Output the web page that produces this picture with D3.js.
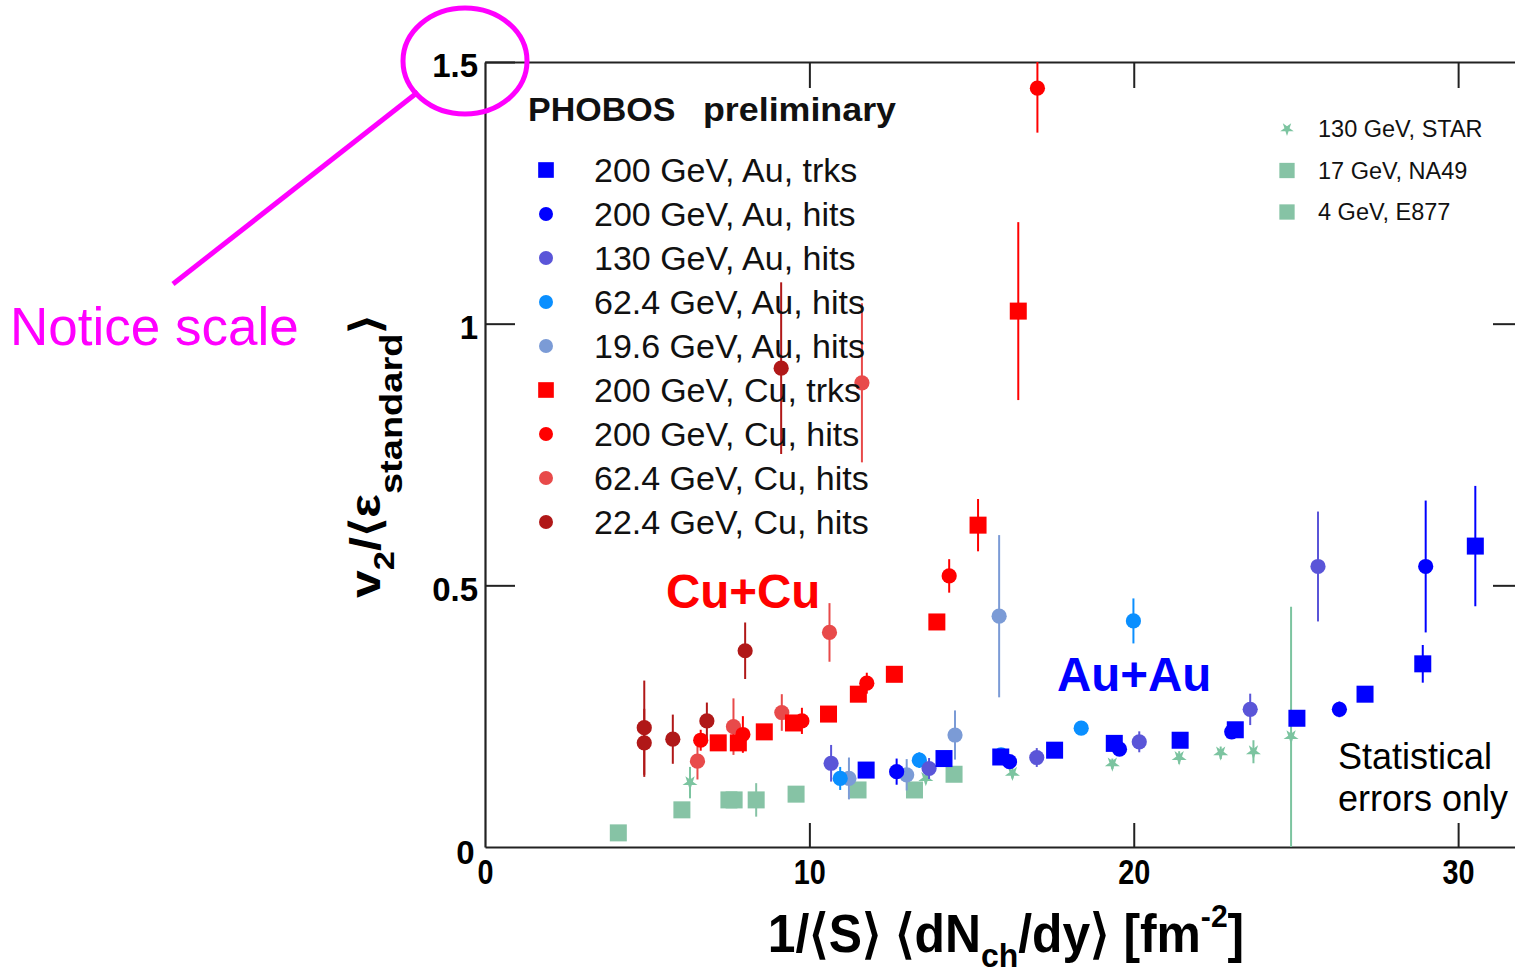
<!DOCTYPE html>
<html>
<head>
<meta charset="utf-8">
<script src="https://cdn.jsdelivr.net/npm/d3@7"></script>
<style>
  html, body { margin: 0; padding: 0; background: #fff; overflow: hidden; }
  text { font-family: "Liberation Sans", Arial, Helvetica, sans-serif; }
</style>
</head>
<body>
<svg id="chart" width="1515" height="976"></svg>
<script>
// ---- axis ticks ----
const xTicks = [0, 10, 20, 30];
const xTickLabels = ["0", "10", "20", "30"];
const yTicks = [0, 0.5, 1, 1.5];
const yTickLabels = ["0", "0.5", "1", "1.5"];

// ---- data: [x, v2/<eps>, statistical error] ----
const au200Trks = [[11.75,0.147,0.008],[14.15,0.169,0.008],[15.90,0.172,0.008],[17.56,0.185,0.008],[19.40,0.198,0.008],[21.43,0.204,0.008],[23.13,0.224,0.008],[25.03,0.246,0.008],[27.13,0.292,0.008],[28.91,0.350,0.036],[30.53,0.575,0.115]];
const au200Hits = [[12.69,0.144,0.025],[16.17,0.163,0.012],[19.56,0.187,0.012],[23.02,0.220,0.012],[26.34,0.263,0.015],[29.00,0.536,0.126]];
const au130Hits = [[10.67,0.160,0.035],[13.69,0.150,0.020],[17.01,0.171,0.018],[20.17,0.201,0.020],[23.59,0.263,0.030],[25.68,0.536,0.105]];
const au62Hits  = [[10.95,0.131,0.022],[13.39,0.166,0.015],[15.91,0.176,0.012],[18.38,0.227,0.012],[19.99,0.432,0.043]];
const au19Hits  = [[11.22,0.131,0.040],[13.00,0.138,0.030],[14.49,0.214,0.047],[15.85,0.441,0.155]];
const cu200Trks = [[7.19,0.199,0.008],[7.81,0.199,0.010],[8.61,0.220,0.008],[9.51,0.237,0.008],[10.59,0.254,0.008],[11.51,0.292,0.008],[12.62,0.330,0.008],[13.93,0.430,0.015],[15.20,0.615,0.050],[16.44,1.024,0.170]];
const cu200Hits = [[6.65,0.204,0.020],[7.95,0.215,0.035],[9.77,0.241,0.025],[11.77,0.313,0.020],[14.31,0.518,0.032],[17.03,1.450,0.085]];
const cu62Hits  = [[6.55,0.164,0.035],[7.66,0.230,0.054],[9.15,0.257,0.035],[10.62,0.410,0.056],[11.62,0.887,0.152]];
const cu22Hits  = [[4.91,0.228,0.090],[4.91,0.199,0.065],[5.79,0.206,0.047],[6.84,0.241,0.035],[8.02,0.375,0.054],[9.13,0.915,0.164]];
const star130   = [[6.32,0.123,0.030],[13.59,0.131,0.010],[16.26,0.141,0.010],[19.34,0.159,0.010],[21.40,0.171,0.012],[22.68,0.180,0.012],[23.69,0.182,0.022],[24.85,0.211,0.248]];
const na49      = [[7.52,0.090,0],[7.68,0.090,0],[8.36,0.090,0.032],[9.59,0.101,0],[11.50,0.109,0],[13.24,0.109,0],[14.46,0.139,0]];
const e877      = [[4.11,0.027,0],[6.07,0.071,0]];

// ---- series styling ----
const phobosSeries = [
  { name: "200 GeV, Au, trks", data: au200Trks, shape: "square", color: "#0000ff" },
  { name: "200 GeV, Au, hits", data: au200Hits, shape: "circle", color: "#0000ff" },
  { name: "130 GeV, Au, hits", data: au130Hits, shape: "circle", color: "#5a55d8" },
  { name: "62.4 GeV, Au, hits", data: au62Hits, shape: "circle", color: "#0a8fff" },
  { name: "19.6 GeV, Au, hits", data: au19Hits, shape: "circle", color: "#7b9bd6" },
  { name: "200 GeV, Cu, trks", data: cu200Trks, shape: "square", color: "#ff0000" },
  { name: "200 GeV, Cu, hits", data: cu200Hits, shape: "circle", color: "#ff0000" },
  { name: "62.4 GeV, Cu, hits", data: cu62Hits, shape: "circle", color: "#e84a4a" },
  { name: "22.4 GeV, Cu, hits", data: cu22Hits, shape: "circle", color: "#b01818" }
];
const otherSeries = [
  { name: "130 GeV, STAR", data: star130, shape: "star", color: "#7cc4a0" },
  { name: "17 GeV, NA49", data: na49, shape: "square", color: "#86c3a5" },
  { name: "4 GeV, E877", data: e877, shape: "square", color: "#86c3a5" }
];

const svg = d3.select("#chart");
const x = d3.scaleLinear().domain([0, 32]).range([485, 1523]);
const y = d3.scaleLinear().domain([0, 1.5]).range([847, 62]);
const FONT = '"Liberation Sans", Arial, Helvetica, sans-serif';

svg.append("defs").append("clipPath").attr("id", "plotClip")
  .append("rect").attr("x", x(0)).attr("y", y(1.5))
  .attr("width", x(32) - x(0)).attr("height", y(0) - y(1.5));

// ---- axes ----
const axisColor = "#222";
function styleAxis(g) {
  g.selectAll("path.domain").attr("stroke", axisColor).attr("stroke-width", 2.2);
  g.selectAll(".tick line").attr("stroke", axisColor).attr("stroke-width", 2);
}

const gx = svg.append("g").attr("transform", `translate(0,${y(0)})`)
  .call(d3.axisBottom(x).tickValues(xTicks).tickSize(-24).tickSizeOuter(0).tickPadding(11)
    .tickFormat((d, i) => xTickLabels[i]));
styleAxis(gx);
gx.selectAll(".tick text")
  .attr("font-family", FONT).attr("font-weight", "bold").attr("font-size", 36)
  .attr("fill", "#000").attr("transform", "scale(0.8,1)");
gx.selectAll(".tick").filter(d => d === 0).select("line").remove();

const gTop = svg.append("g").attr("transform", `translate(0,${y(1.5)})`)
  .call(d3.axisTop(x).tickValues(xTicks.slice(1)).tickSize(-26).tickSizeOuter(0).tickFormat(""));
styleAxis(gTop);

const gy = svg.append("g").attr("transform", `translate(${x(0)},0)`)
  .call(d3.axisLeft(y).tickValues(yTicks).tickSize(-30).tickSizeOuter(0).tickPadding(7)
    .tickFormat((d, i) => yTickLabels[i]));
styleAxis(gy);
gy.selectAll(".tick text")
  .attr("font-family", FONT).attr("font-weight", "bold").attr("font-size", 33).attr("fill", "#000")
  .attr("dy", "0.45em");
gy.selectAll(".tick").filter(d => d === 0).select("text").attr("dy", "0.5em").attr("dx", "-0.1em");
gy.selectAll(".tick").filter(d => d === 0).select("line").remove();

const gRight = svg.append("g").attr("transform", `translate(${x(32)},0)`)
  .call(d3.axisRight(y).tickValues(yTicks.slice(1, 3)).tickSize(-30).tickSizeOuter(0).tickFormat(""));
styleAxis(gRight);

// ---- markers ----
const plot = svg.append("g").attr("clip-path", "url(#plotClip)");
const starPath = d3.symbol().type(d3.symbolStar).size(70)();

function drawMarker(sel, shape, color, px, py, scale) {
  const s = scale || 1;
  if (shape === "square") {
    const w = 17 * s;
    sel.append("rect").attr("x", px - w / 2).attr("y", py - w / 2)
      .attr("width", w).attr("height", w).attr("fill", color);
  } else if (shape === "circle") {
    sel.append("circle").attr("cx", px).attr("cy", py).attr("r", 7.6 * s).attr("fill", color);
  } else {
    sel.append("path").attr("d", starPath)
      .attr("transform", `translate(${px},${py}) rotate(36) scale(${s})`).attr("fill", color);
  }
}

function drawSeries(series) {
  const g = plot.append("g");
  g.selectAll("line.err").data(series.data.filter(d => d[2] > 0)).join("line")
    .attr("class", "err")
    .attr("x1", d => x(d[0])).attr("x2", d => x(d[0]))
    .attr("y1", d => y(d[1] - d[2])).attr("y2", d => y(d[1] + d[2]))
    .attr("stroke", series.color).attr("stroke-width", 2);
  series.data.forEach(d => drawMarker(g, series.shape, series.color, x(d[0]), y(d[1])));
}
otherSeries.slice().reverse().forEach(drawSeries);
phobosSeries.slice().reverse().forEach(drawSeries);

// ---- legends ----
svg.append("text").attr("x", 528).attr("y", 121)
  .attr("font-family", FONT).attr("font-weight", "bold").attr("font-size", 34)
  .attr("fill", "#111").text("PHOBOS");
svg.append("text").attr("x", 703).attr("y", 121)
  .attr("font-family", FONT).attr("font-weight", "bold").attr("font-size", 34)
  .attr("fill", "#111").attr("textLength", 193).attr("lengthAdjust", "spacingAndGlyphs")
  .text("preliminary");

const leg = svg.append("g");
phobosSeries.forEach((s, i) => {
  const cy = 170 + i * 44;
  drawMarker(leg, s.shape, s.color, 546, cy, 0.92);
  leg.append("text").attr("x", 594).attr("y", cy + 12)
    .attr("font-family", FONT).attr("font-size", 34).attr("fill", "#111").text(s.name);
});

const leg2 = svg.append("g");
otherSeries.forEach((s, i) => {
  const cy = 129 + i * 41.5;
  drawMarker(leg2, s.shape, s.color, 1287, cy, 0.9);
  leg2.append("text").attr("x", 1318).attr("y", cy + 8)
    .attr("font-family", FONT).attr("font-size", 23.5).attr("fill", "#111").text(s.name);
});

// ---- annotations ----
svg.append("text").attr("x", 666).attr("y", 608)
  .attr("font-family", FONT).attr("font-weight", "bold").attr("font-size", 47.5)
  .attr("fill", "#ff0000").text("Cu+Cu");
svg.append("text").attr("x", 1057).attr("y", 691)
  .attr("font-family", FONT).attr("font-weight", "bold").attr("font-size", 47.5)
  .attr("fill", "#0000ff").text("Au+Au");
svg.append("text").attr("x", 1338).attr("y", 769)
  .attr("font-family", FONT).attr("font-size", 36).attr("fill", "#000").text("Statistical");
svg.append("text").attr("x", 1338).attr("y", 811)
  .attr("font-family", FONT).attr("font-size", 36).attr("fill", "#000").text("errors only");

// ---- axis titles ----
function fitWidth(textSel, target) {
  const w = textSel.node().getBBox().width;
  textSel.attr("transform", `scale(${target / w},1)`);
}

const xt = svg.append("g").attr("transform", "translate(1006,952)")
  .append("text").attr("text-anchor", "middle")
  .attr("font-family", FONT).attr("font-weight", "bold").attr("font-size", 53).attr("fill", "#000");
xt.append("tspan").text("1/\u27E8S\u27E9 \u27E8dN");
xt.append("tspan").attr("font-size", 34).attr("dy", 15).text("ch");
xt.append("tspan").attr("dy", -15).text("/dy\u27E9 [fm");
xt.append("tspan").attr("font-size", 32).attr("dy", -25).text("-2");
xt.append("tspan").attr("dy", 25).text("]");
fitWidth(xt, 478);

const yt = svg.append("g").attr("transform", "translate(380,456) rotate(-90)")
  .append("text").attr("text-anchor", "middle")
  .attr("font-family", FONT).attr("font-weight", "bold").attr("font-size", 42).attr("fill", "#000");
yt.append("tspan").text("v");
yt.append("tspan").attr("font-size", 29).attr("dy", 14).text("2");
yt.append("tspan").attr("dy", -14).text("/\u27E8\u03B5");
yt.append("tspan").attr("font-size", 32).attr("dy", 22).text("standard");
yt.append("tspan").attr("dy", -22).text("\u27E9");
fitWidth(yt, 283);

// ---- highlighted scale note ----
const note = "#ff00ff";
svg.append("ellipse").attr("cx", 465).attr("cy", 61).attr("rx", 62).attr("ry", 53)
  .attr("fill", "none").attr("stroke", note).attr("stroke-width", 5);
svg.append("line").attr("x1", 173).attr("y1", 284).attr("x2", 418).attr("y2", 92)
  .attr("stroke", note).attr("stroke-width", 5);
svg.append("text").attr("x", 10).attr("y", 345)
  .attr("font-family", FONT).attr("font-size", 53).attr("fill", note).text("Notice scale");
</script>
</body>
</html>
